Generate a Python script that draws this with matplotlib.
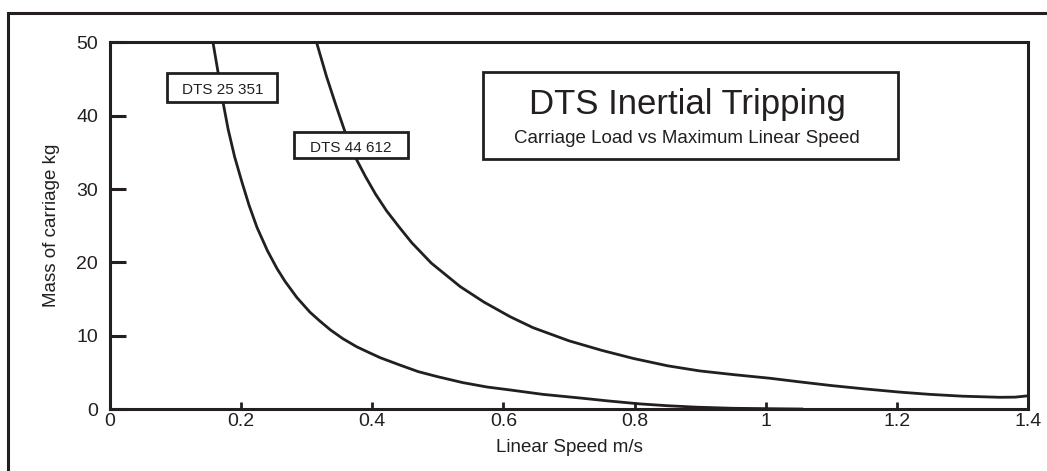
import matplotlib
matplotlib.use("Agg")
import matplotlib.pyplot as plt
from matplotlib.patches import Rectangle

# Curve data
speed_25351 = [0.157, 0.165, 0.172, 0.180, 0.190, 0.201, 0.212, 0.224, 0.240,
               0.255, 0.267, 0.285, 0.305, 0.320, 0.336, 0.355, 0.376, 0.395,
               0.412, 0.442, 0.470, 0.500, 0.538, 0.575, 0.610, 0.660, 0.717,
               0.760, 0.808, 0.850, 0.895, 0.950, 1.000, 1.055]
mass_25351 = [50.0, 45.8, 42.0, 38.2, 34.4, 31.0, 27.8, 24.8, 21.6,
              19.1, 17.4, 15.2, 13.2, 12.0, 10.8, 9.6, 8.5, 7.7,
              7.0, 6.0, 5.1, 4.4, 3.6, 3.0, 2.6, 2.0, 1.5,
              1.1, 0.7, 0.45, 0.25, 0.1, 0.05, 0.0]

speed_44612 = [0.315, 0.330, 0.345, 0.358, 0.372, 0.389, 0.405, 0.422, 0.442,
               0.460, 0.490, 0.534, 0.570, 0.610, 0.645, 0.700, 0.750, 0.798,
               0.850, 0.899, 0.950, 1.006, 1.052, 1.100, 1.150, 1.205, 1.250,
               1.300, 1.357, 1.380, 1.400]
mass_44612 = [50.0, 45.4, 41.3, 37.9, 34.7, 31.8, 29.3, 27.0, 24.7,
              22.7, 19.9, 16.7, 14.6, 12.6, 11.1, 9.3, 8.0, 6.9,
              5.9, 5.2, 4.7, 4.2, 3.7, 3.2, 2.75, 2.3, 2.0,
              1.75, 1.6, 1.62, 1.8]

x_ticks = [0, 0.2, 0.4, 0.6, 0.8, 1.0, 1.2, 1.4]
x_tick_labels = ["0", "0.2", "0.4", "0.6", "0.8", "1", "1.2", "1.4"]
y_ticks = [0, 10, 20, 30, 40, 50]

INK = "#231f20"

plt.rcParams["font.family"] = ["Liberation Sans", "DejaVu Sans"]

fig = plt.figure(figsize=(10.47, 4.71), dpi=100)
ax = fig.add_axes([0.1051, 0.1316, 0.8768, 0.7782])

# outer frame (only top and left edges visible in the picture)
frame = Rectangle((0.0076, -0.2), 1.5, 1.1724, transform=fig.transFigure,
                  fill=False, edgecolor=INK, linewidth=2.2, zorder=0)
fig.patches.append(frame)

ax.plot(speed_25351, mass_25351, color=INK, linewidth=2.0, zorder=2,
        solid_joinstyle="round")
ax.plot(speed_44612, mass_44612, color=INK, linewidth=2.0, zorder=2,
        solid_joinstyle="round")

ax.set_xlim(0, 1.4)
ax.set_ylim(0, 50)
ax.set_xticks(x_ticks)
ax.set_xticklabels(x_tick_labels)
ax.set_yticks(y_ticks)

for spine in ax.spines.values():
    spine.set_linewidth(2.2)
    spine.set_color(INK)

ax.tick_params(axis="y", direction="in", length=11.5, width=2.2, color=INK,
               labelsize=14, pad=8.5, labelcolor=INK)
ax.tick_params(axis="x", direction="in", length=5, width=2.0, color=INK,
               labelsize=14, pad=3, labelcolor=INK)

ax.set_xlabel("Linear Speed m/s", fontsize=13.5, color=INK, labelpad=6)
ax.set_ylabel("Mass of carriage kg", fontsize=13.5, color=INK, labelpad=12)

# series label boxes
label_boxes = [
    ("DTS 25 351", 0.0869, 41.88, 0.1678, 3.96, 0.1716, 42.97),
    ("DTS 44 612", 0.2806, 34.24, 0.1739, 3.55, 0.3673, 35.06),
]
for text, bx, by, bw, bh, tx, ty in label_boxes:
    ax.add_patch(Rectangle((bx, by), bw, bh, facecolor="white",
                           edgecolor=INK, linewidth=2.0, zorder=3))
    ax.text(tx, ty, text, ha="center", va="baseline", fontsize=11,
            color=INK, zorder=4)

# title box
ax.add_patch(Rectangle((0.569, 34.1), 0.633, 11.88, facecolor="white",
                       edgecolor=INK, linewidth=2.0, zorder=3))
ax.text(0.880, 40.2, "DTS Inertial Tripping", ha="center", va="baseline",
        fontsize=25, color=INK, zorder=4)
ax.text(0.880, 36.3, "Carriage Load vs Maximum Linear Speed", ha="center",
        va="baseline", fontsize=13.5, color=INK, zorder=4)

fig.savefig("out.png", dpi=100)
